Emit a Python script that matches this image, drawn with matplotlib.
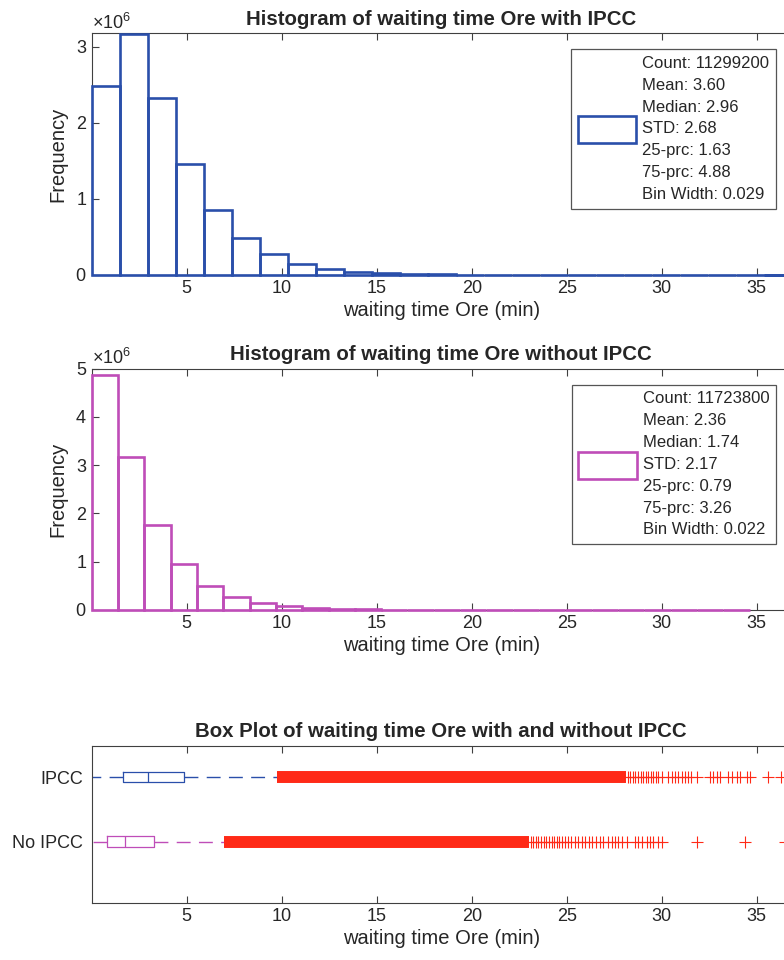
import matplotlib
matplotlib.use('Agg')
import matplotlib.pyplot as plt
from matplotlib.patches import Patch
from matplotlib.ticker import ScalarFormatter

plt.rcParams['font.family'] = ['Liberation Sans', 'DejaVu Sans']
plt.rcParams['mathtext.fontset'] = 'custom'
plt.rcParams['mathtext.rm'] = 'Liberation Sans'

# ---- data ----
# histogram with IPCC (counts, bin width as drawn)
bin_w_ipcc = 1.475
counts_ipcc = [2.48e6, 3.17e6, 2.32e6, 1.46e6, 0.86e6, 0.48e6, 0.27e6, 0.15e6,
               0.08e6, 0.045e6, 0.023e6, 0.012e6, 7000, 4000, 2500, 1500, 900,
               600, 400, 250, 150, 100, 60, 40, 25]
stats_ipcc = ['Count: 11299200', 'Mean: 3.60', 'Median: 2.96', 'STD: 2.68',
              '25-prc: 1.63', '75-prc: 4.88', 'Bin Width: 0.029']

# histogram without IPCC
bin_w_noipcc = 1.385
counts_noipcc = [4.87e6, 3.16e6, 1.75e6, 0.95e6, 0.50e6, 0.26e6, 0.14e6, 0.08e6,
                 0.04e6, 0.02e6, 12000, 7000, 4000, 2000, 1200, 700, 400, 200,
                 100, 60, 30, 20, 10, 5, 2]
stats_noipcc = ['Count: 11723800', 'Mean: 2.36', 'Median: 1.74', 'STD: 2.17',
                '25-prc: 0.79', '75-prc: 3.26', 'Bin Width: 0.022']

# box plot
box_labels = ['IPCC', 'No IPCC']
box_q1 = [1.63, 0.79]
box_med = [2.96, 1.74]
box_q3 = [4.88, 3.26]
box_lo = [0.0, 0.0]
box_hi = [9.74, 6.95]
# solid run of outliers (too dense to tell apart)
dense_lo = [9.74, 6.95]
dense_hi = [28.1, 23.0]
# separate outliers beyond the solid run
fliers_ipcc = [28.2, 28.35, 28.5, 28.6, 28.75, 28.9, 29.0, 29.15, 29.3, 29.45,
               29.55, 29.7, 29.8, 30.0, 30.35, 30.52, 30.7, 30.88, 31.05, 31.2,
               31.4, 31.56, 31.84, 32.54, 32.72, 32.9, 33.07, 33.5, 33.68, 33.95,
               34.12, 34.47, 34.65, 35.6, 36.3]
fliers_noipcc = [23.1, 23.25, 23.4, 23.5, 23.65, 23.8, 23.9, 24.05, 24.2, 24.35,
                 24.5, 24.6, 24.75, 24.9, 25.05, 25.25, 25.45, 25.6, 25.8, 25.95,
                 26.15, 26.35, 26.55, 26.75, 26.93, 27.19, 27.37, 27.54, 27.72,
                 27.9, 28.16, 28.59, 28.77, 28.94, 29.2, 29.38, 29.56, 29.82,
                 30.0, 31.84, 34.38, 36.5]

blue = '#2a4faa'
magenta = '#bf4db8'
red = '#ff2a17'
axis_col = '#404040'
text_col = '#262626'

W, H = 784, 960
x_max = 36.8
fig = plt.figure(figsize=(W / 100, H / 100), dpi=100)


def px_axes(left, top, right, bottom):
    return fig.add_axes([left / W, 1 - bottom / H, (right - left) / W, (bottom - top) / H])


def style_axes(ax):
    for s in ax.spines.values():
        s.set_color(axis_col)
        s.set_linewidth(0.8)
    ax.tick_params(direction='in', length=5, width=0.8, color=axis_col,
                   labelsize=13, labelcolor=text_col, top=True, right=True)
    ax.set_xlim(0, x_max)
    ax.set_xticks([5, 10, 15, 20, 25, 30, 35])
    ax.set_xlabel('waiting time Ore (min)', fontsize=14.5, color=text_col, labelpad=3)


def hist_panel(ax, counts, bw, color, ymax, yticks, title, stats):
    style_axes(ax)
    lefts = [i * bw for i in range(len(counts))]
    ax.bar(lefts, counts, width=bw, align='edge', fill=False, edgecolor=color,
           linewidth=1.9, zorder=3, clip_on=False)
    ax.set_ylim(0, ymax)
    ax.set_yticks(yticks)
    fmt = ScalarFormatter(useMathText=True)
    fmt.set_powerlimits((0, 0))
    ax.yaxis.set_major_formatter(fmt)
    ax.yaxis.get_offset_text().set_fontsize(13)
    ax.yaxis.get_offset_text().set_color(text_col)
    ax.set_ylabel('Frequency', fontsize=14.5, color=text_col, labelpad=6)
    ax.set_title(title, fontsize=14.7, fontweight='bold', color=text_col, pad=6)
    h = Patch(facecolor='none', edgecolor=color, linewidth=1.9)
    leg = ax.legend([h], ['\n'.join(stats)], loc='upper right',
                    bbox_to_anchor=(0.9786, 0.933), borderaxespad=0,
                    fontsize=12, handlelength=3.5, handleheight=2.1,
                    handletextpad=0.35, borderpad=0.4, fancybox=False,
                    framealpha=1, edgecolor='#555555')
    leg.get_frame().set_linewidth(0.9)
    for t in leg.get_texts():
        t.set_linespacing(1.57)
        t.set_color(text_col)


ax1 = px_axes(91.7, 33, 91.7 + x_max * 19, 275)
hist_panel(ax1, counts_ipcc, bin_w_ipcc, blue, 3.18e6, [0, 1e6, 2e6, 3e6],
           'Histogram of waiting time Ore with IPCC', stats_ipcc)

ax2 = px_axes(91.7, 368.5, 91.7 + x_max * 19, 610)
hist_panel(ax2, counts_noipcc, bin_w_noipcc, magenta, 5e6,
           [0, 1e6, 2e6, 3e6, 4e6, 5e6],
           'Histogram of waiting time Ore without IPCC', stats_noipcc)

# ---- box plot ----
ax3 = px_axes(91.7, 745.7, 91.7 + x_max * 19, 903.3)
style_axes(ax3)
colors = [blue, magenta]
fliers = [fliers_ipcc, fliers_noipcc]
for i in range(2):
    st = [{'med': box_med[i], 'q1': box_q1[i], 'q3': box_q3[i],
           'whislo': box_lo[i], 'whishi': box_hi[i], 'fliers': fliers[i]}]
    ax3.bxp(st, positions=[i + 1], widths=0.16, vert=False, showcaps=False,
            boxprops=dict(color=colors[i], linewidth=0.9),
            medianprops=dict(color=colors[i], linewidth=0.9),
            whiskerprops=dict(color=colors[i], linewidth=1.0, linestyle=(0, (10, 6))),
            flierprops=dict(marker='+', markersize=8.6, markeredgecolor=red,
                            markeredgewidth=0.8, linestyle='none'))
    ax3.hlines(i + 1, dense_lo[i], dense_hi[i], color=red, linewidth=8.6,
               capstyle='butt', zorder=2)
ax3.set_ylim(2.96, 0.51)
ax3.set_yticks([1, 2])
ax3.set_yticklabels(box_labels)
ax3.tick_params(axis='y', length=0, pad=6)
ax3.set_title('Box Plot of waiting time Ore with and without IPCC', fontsize=14.7,
              fontweight='bold', color=text_col, pad=6)

fig.savefig('out.png', dpi=100)
